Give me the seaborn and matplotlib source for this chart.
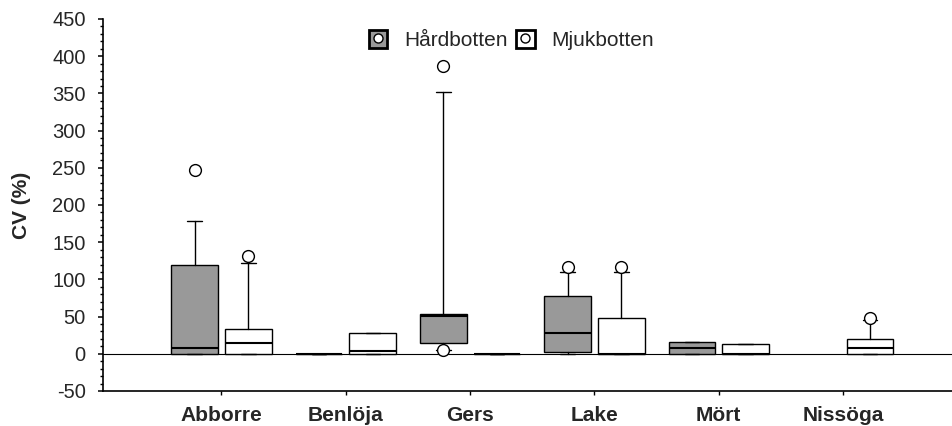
import numpy as np
import matplotlib
matplotlib.use("Agg")
import matplotlib.pyplot as plt
import seaborn as sns
from matplotlib.patches import Patch
from matplotlib.lines import Line2D
from matplotlib.legend_handler import HandlerTuple
from matplotlib.ticker import MultipleLocator

# ---------------- data ----------------
categories = ["Abborre", "Benlöja", "Gers", "Lake", "Mört", "Nissöga"]
series = ["Hårdbotten", "Mjukbotten"]

nan = np.nan
hard_whislo = [0, 0, 5, 0, 0, nan]
hard_q1 = [0, 0, 14, 3, 0, nan]
hard_med = [8, 0, 51, 28, 8, nan]
hard_q3 = [120, 0, 54, 77, 16, nan]
hard_whishi = [178, 0, 352, 110, 16, nan]
hard_fliers = [[247], [], [387, 5.5], [117], [], []]

soft_whislo = [0, 0, 0, 0, 0, 0]
soft_q1 = [0, 0, 0, 0, 0, 0]
soft_med = [15, 4, 0, 0, 0, 8]
soft_q3 = [33, 27.5, 0, 48, 13, 20]
soft_whishi = [122, 27.5, 0, 110, 13, 45]
soft_fliers = [[131], [], [], [117], [], [48.5]]

colors = ["#999999", "#ffffff"]

# ---------------- style ----------------
sns.set_style("ticks")
plt.rcParams["font.family"] = ["Liberation Sans", "DejaVu Sans"]
plt.rcParams["axes.unicode_minus"] = False

fig = plt.figure(figsize=(9.53, 4.26), dpi=100)
ax = fig.add_axes([0.1084, 0.0822, 0.8916, 0.8732])


def build_stats(wlo, q1, med, q3, whi, fl):
    out, idx = [], []
    for i in range(len(categories)):
        if np.isnan(med[i]):
            continue
        out.append(dict(whislo=wlo[i], q1=q1[i], med=med[i], q3=q3[i],
                        whishi=whi[i], fliers=fl[i]))
        idx.append(i)
    return out, np.array(idx, dtype=float)


groups = [
    build_stats(hard_whislo, hard_q1, hard_med, hard_q3, hard_whishi, hard_fliers),
    build_stats(soft_whislo, soft_q1, soft_med, soft_q3, soft_whishi, soft_fliers),
]
offsets = [-0.215, 0.218]

ax.axhline(0, color="black", lw=0.8, zorder=1)

for (st, idx), off, col in zip(groups, offsets, colors):
    ax.bxp(st, positions=idx + off, widths=0.375, capwidths=0.117,
           patch_artist=True, manage_ticks=False,
           boxprops=dict(facecolor=col, edgecolor="black", linewidth=1.0),
           medianprops=dict(color="black", linewidth=1.5),
           whiskerprops=dict(color="black", linewidth=1.0),
           capprops=dict(color="black", linewidth=1.0),
           flierprops=dict(marker="o", markerfacecolor="white",
                           markeredgecolor="black", markersize=8.5,
                           markeredgewidth=1.0))

ax.set_xlim(-0.95, 5.886)
ax.set_ylim(-50, 450)
ax.set_xticks(range(len(categories)))
ax.set_xticklabels(categories, fontsize=15, fontweight="bold")
ax.yaxis.set_major_locator(MultipleLocator(50))
ax.yaxis.set_minor_locator(MultipleLocator(10))
ax.tick_params(axis="y", which="major", labelsize=14.5, length=3.6,
               width=1.1, pad=9, color="black")
ax.tick_params(axis="y", which="minor", length=2.2, width=1.0, color="black")
ax.tick_params(axis="x", which="major", length=3, width=1.0, pad=8,
               color="black")
ax.set_ylabel("CV (%)", fontsize=15, fontweight="bold", labelpad=15)

sns.despine(ax=ax, top=True, right=True)
for s in ["left", "bottom"]:
    ax.spines[s].set_linewidth(1.2)
    ax.spines[s].set_color("black")

handles = [
    (Patch(facecolor=c, edgecolor="black", linewidth=2.0),
     Line2D([], [], marker="o", ls="", markerfacecolor="white",
            markeredgecolor="black", markersize=6.5, markeredgewidth=1.0))
    for c in colors
]
ax.legend(handles, series, handler_map={tuple: HandlerTuple(ndivide=1)},
          loc="center", bbox_to_anchor=(0.48, 0.943), ncol=2, frameon=False,
          fontsize=15, handlelength=0.9, handleheight=0.9,
          handletextpad=0.8, columnspacing=0.4)

fig.savefig("out.png", dpi=100)
